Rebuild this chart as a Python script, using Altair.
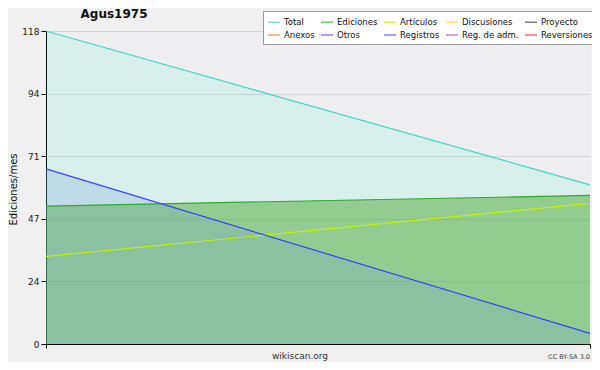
import altair as alt
import pandas as pd

months = [0, 1]
total = [118, 60]
ediciones = [52, 56]
articulos = [33, 53]
registros = [66, 4]

legend_names = ["Total", "Ediciones", "Artículos", "Discusiones", "Proyecto",
                "Anexos", "Otros", "Registros", "Reg. de adm.", "Reversiones"]
legend_colors = ["#40d8c8", "#2eaa2e", "#c4f000", "#ffcc33", "#333333",
                 "#ff6622", "#6633cc", "#3344ff", "#bb33dd", "#ee2222"]

y_ticks = [0, 11.8, 23.6, 35.4, 47.2, 59, 70.8, 82.6, 94.4, 106.2, 118]
major_test = "indexof([0,23.6,47.2,70.8,94.4,118], datum.value) >= 0"

wide = pd.DataFrame({"m": months, "Total": total, "Ediciones": ediciones,
                     "Artículos": articulos, "Registros": registros})
long = wide.melt("m", var_name="serie", value_name="v")

FONT = "DejaVu Sans"

xs = alt.X("m:Q", scale=alt.Scale(domain=[0, 1], nice=False),
           axis=alt.Axis(values=[0, 1], labels=False, title=None, grid=False,
                         domainColor="black", tickColor="black", tickSize=4))
ys = alt.Scale(domain=[0, 118], nice=False, zero=True)
yaxis = alt.Axis(values=y_ticks, title="Ediciones/mes",
                 labelExpr=major_test + " ? format(datum.value, '.0f') : ''",
                 gridOpacity={"condition": {"test": major_test, "value": 1}, "value": 0},
                 gridColor="#d4d4d4", domainColor="black", tickColor="black", tickSize=5,
                 labelFont=FONT, labelFontSize=9, labelColor="#222", labelPadding=2,
                 titleFont=FONT, titleFontSize=10, titleFontWeight="normal", titleColor="#111",
                 titleX=-33, titleY=158, titleAngle=-90, titleBaseline="middle")

base = alt.Chart(wide)

area_total = base.mark_area(color="#00ffb4", opacity=0.09).encode(x=xs, y=alt.Y("Total:Q", scale=ys, axis=yaxis))
area_edi = base.mark_area(color="#4ba938", opacity=0.5).encode(x=xs, y=alt.Y("Ediciones:Q", scale=ys))
area_reg = base.mark_area(color="#709ed4", opacity=0.24).encode(x=xs, y=alt.Y("Registros:Q", scale=ys))

lines = alt.Chart(long).mark_line(strokeWidth=1.2).encode(
    x=xs, y=alt.Y("v:Q", scale=ys),
    color=alt.Color("serie:N", scale=alt.Scale(domain=legend_names, range=legend_colors),
                    legend=alt.Legend(title=None, orient="none", legendX=217, legendY=-20,
                                      direction="horizontal", columns=5, symbolType="stroke",
                                      symbolSize=144, symbolStrokeWidth=1.5, symbolOpacity=0.65,
                                      labelFont=FONT, labelFontSize=8.5, labelColor="#111",
                                      rowPadding=1, columnPadding=3, labelOffset=3,
                                      padding=4, fillColor="white", strokeColor="#999",
                                      symbolOffset=0)),
    detail="serie:N",
)

one = pd.DataFrame({"a": [0]})
shadow = alt.Chart(one).mark_rect(color="#888888").encode(
    x=alt.value(220), x2=alt.value(545), y=alt.value(-17), y2=alt.value(11))

title = alt.Chart(one).mark_text(text="Agus1975", font=FONT, fontSize=12, fontWeight="bold",
                                 color="#111", align="center").encode(x=alt.value(68), y=alt.value(-17))
foot = alt.Chart(one).mark_text(text="wikiscan.org", font=FONT, fontSize=9, color="#333",
                                align="center").encode(x=alt.value(254), y=alt.value(325))
cc = alt.Chart(one).mark_text(text="CC BY-SA 3.0", font=FONT, fontSize=6.5, color="#444",
                              align="right").encode(x=alt.value(544), y=alt.value(326))

chart = alt.layer(shadow, area_total, area_edi, area_reg, lines, title, foot, cc).properties(
    width=544, height=313, background="#f0f0f0",
    padding={"left": 38, "top": 23, "right": 2, "bottom": 18},
    autosize=alt.AutoSizeParams(type="none"),
).configure_view(fill="#eeeef1", stroke=None)

chart.save("out.html", embed_options={"renderer": "svg", "actions": False})
